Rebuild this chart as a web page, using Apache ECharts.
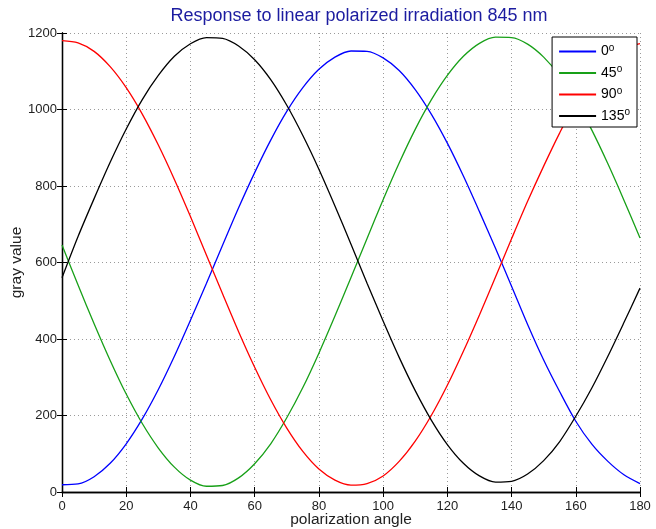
<!DOCTYPE html>
<html>
<head>
<meta charset="utf-8">
<script src="https://cdn.jsdelivr.net/npm/echarts@6/dist/echarts.min.js"></script>
<style>
  html, body { margin: 0; padding: 0; background: #fff; }
  #chart { width: 656px; height: 529px; }
</style>
</head>
<body>
<div id="chart"></div>
<script>
// polarization angles (deg)
var angles = [0, 5, 10, 15, 20, 25, 30, 35, 40, 45, 50, 55, 60, 65, 70, 75, 80, 85, 90,
              95, 100, 105, 110, 115, 120, 125, 130, 135, 140, 145, 150, 155, 160, 165, 170, 175, 180];

// gray values
var pol0 = [19, 21, 40, 75, 126, 191, 268, 355, 449, 546, 645, 743, 835, 920, 995, 1057, 1105, 1137, 1153,
            1152, 1135, 1102, 1052, 988, 912, 826, 733, 637, 538, 438, 345, 262, 185, 125, 80, 45, 22];
var pol45 = [646, 541, 440, 344, 256, 179, 115, 65, 31, 15, 17, 37, 74, 126, 194, 273, 363, 460, 561,
             663, 764, 860, 948, 1025, 1089, 1139, 1173, 1189, 1188, 1171, 1137, 1088, 1023, 946, 858, 763, 664];
var pol90 = [1180, 1174, 1152, 1112, 1057, 988, 907, 817, 720, 619, 518, 419, 326, 241, 167, 106, 60, 31, 18,
             22, 42, 80, 133, 200, 279, 368, 463, 562, 662, 760, 852, 939, 1018, 1080, 1128, 1160, 1172];
var pol135 = [560, 668, 767, 862, 949, 1026, 1089, 1139, 1172, 1188, 1186, 1166, 1130, 1078, 1011, 932, 844, 748, 648,
              546, 447, 352, 265, 188, 124, 75, 42, 26, 28, 47, 82, 132, 198, 272, 355, 443, 533];

var xTicks = { min: 0, max: 180, interval: 20 };
var yTicks = { min: 0, max: 1200, interval: 200 };

function pairs(vals) {
    return angles.map(function(a, i) { return [a, vals[i]]; });
}

var font = 'Liberation Sans, Arial, Helvetica, sans-serif';
var dotted = { show: true, lineStyle: { color: '#9a9a9a', type: [1, 3], width: 1 } };
var boxLine = { show: true, lineStyle: { color: '#000', width: 1.3 } };
var tickIn = { show: true, inside: true, length: 5, lineStyle: { color: '#000' } };
var plain = function(v) { return String(v); };

var option = {
    backgroundColor: '#fff',
    animation: false,
    title: {
        text: 'Response to linear polarized irradiation 845 nm',
        left: 354,
        textAlign: 'center',
        top: 2,
        textStyle: { fontFamily: font, fontSize: 18, fontWeight: 'normal', color: '#1c1ca0' }
    },
    grid: { left: 62, right: 16, top: 33, bottom: 37, outerBoundsMode: 'none', containLabel: false },
    legend: {
        orient: 'vertical',
        right: 19,
        top: 37,
        backgroundColor: '#fff',
        borderColor: '#000',
        borderWidth: 1,
        borderRadius: 0,
        padding: [6, 7, 4, 7],
        itemGap: 6,
        itemWidth: 37,
        itemHeight: 2,
        icon: 'rect',
        data: ['0', '45', '90', '135'],
        formatter: function(name) { return '{a|' + name + '}{s|o}'; },
        textStyle: {
            fontFamily: font,
            color: '#000',
            rich: {
                a: { fontSize: 14, fontFamily: font, color: '#000' },
                s: { fontSize: 10, fontFamily: font, color: '#000', verticalAlign: 'bottom', padding: [0, 0, 7, 0] }
            }
        }
    },
    xAxis: [{
        type: 'value',
        min: xTicks.min, max: xTicks.max, interval: xTicks.interval,
        name: 'polarization angle',
        nameLocation: 'middle',
        nameGap: 20,
        nameMoveOverlap: false,
        nameTextStyle: { fontFamily: font, fontSize: 15.5, color: '#222' },
        axisLine: boxLine,
        axisTick: tickIn,
        axisLabel: { fontFamily: font, fontSize: 13, color: '#222', margin: 8, formatter: plain },
        splitLine: dotted
    }, {
        type: 'value', position: 'top',
        min: xTicks.min, max: xTicks.max, interval: xTicks.interval,
        axisLine: boxLine, axisTick: tickIn,
        axisLabel: { show: false }, splitLine: { show: false }
    }],
    yAxis: [{
        type: 'value',
        min: yTicks.min, max: yTicks.max, interval: yTicks.interval,
        name: 'gray value',
        nameLocation: 'middle',
        nameGap: 37,
        nameMoveOverlap: false,
        nameTextStyle: { fontFamily: font, fontSize: 15.5, color: '#222' },
        axisLine: boxLine,
        axisTick: tickIn,
        axisLabel: { fontFamily: font, fontSize: 13, color: '#222', margin: 5, formatter: plain },
        splitLine: dotted
    }, {
        type: 'value', position: 'right',
        min: yTicks.min, max: yTicks.max, interval: yTicks.interval,
        axisLine: boxLine, axisTick: tickIn,
        axisLabel: { show: false }, splitLine: { show: false }
    }],
    series: [
        { name: '0', type: 'line', smooth: 0.3, showSymbol: false, data: pairs(pol0), lineStyle: { color: '#0000ff', width: 1.3 }, itemStyle: { color: '#0000ff' } },
        { name: '45', type: 'line', smooth: 0.3, showSymbol: false, data: pairs(pol45), lineStyle: { color: '#18a018', width: 1.3 }, itemStyle: { color: '#18a018' } },
        { name: '90', type: 'line', smooth: 0.3, showSymbol: false, data: pairs(pol90), lineStyle: { color: '#ff0000', width: 1.3 }, itemStyle: { color: '#ff0000' } },
        { name: '135', type: 'line', smooth: 0.3, showSymbol: false, data: pairs(pol135), lineStyle: { color: '#000000', width: 1.3 }, itemStyle: { color: '#000000' } }
    ]
};

echarts.init(document.getElementById('chart')).setOption(option);
</script>
</body>
</html>
